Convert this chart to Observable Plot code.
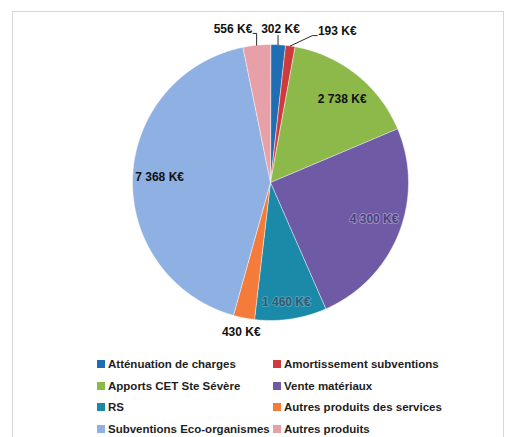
<!DOCTYPE html>
<html><head><meta charset="utf-8">
<script src="https://cdn.jsdelivr.net/npm/d3@7"></script>
<script src="https://cdn.jsdelivr.net/npm/@observablehq/plot@0.6"></script>
<style>
body{margin:0;background:#fff;font-family:"Liberation Sans",Arial,sans-serif;}
#wrap{position:relative;width:526px;height:437px;overflow:hidden;}
#frame{position:absolute;left:12px;top:11px;width:490px;height:440px;border:1px solid #d6d6d6;}
#chart{position:absolute;left:0;top:0;}
.leg{position:absolute;font-weight:bold;font-size:11.5px;color:#1e1e1e;white-space:nowrap;line-height:14px;height:14px}
.leg i{display:inline-block;width:8px;height:8px;margin-right:3px;vertical-align:0px}
</style></head><body>
<div id="wrap"><div id="frame"></div><div id="chart"></div><div id="legend"></div></div>
<script>
const categories = ["Atténuation de charges","Amortissement subventions","Apports CET Ste Sévère","Vente matériaux","RS","Autres produits des services","Subventions Eco-organismes","Autres produits"];
const values = [302, 193, 2738, 4300, 1460, 430, 7368, 556];
const labels = ["302 K€","193 K€","2 738 K€","4 300 K€","1 460 K€","430 K€","7 368 K€","556 K€"];
const colors = ["#1f6db3","#cf3b3d","#8db84a","#6f5aa6","#1a8aa8","#f57b3b","#8fb0e2","#e8a0a8"];

// layout (not data)
const W = 526, H = 345, CX = 270, CY = 182, R = 138;
const labelR = [153.3, 165, 110, 110, 121, 152, 111, 157.6];
const labelShift = [0.6, 15.6, 2, -2, 1, 0, 0.5, -8];
const labelColor = ["#111","#111","#111","#4a4278","#35596e","#111","#111","#111"];
const labelHalo = ["none","none","none","rgba(190,180,225,0.55)","rgba(110,185,205,0.55)","none","none","none"];

const total = d3.sum(values);
const toRad = Math.PI / 180;
let acc = 0;
const slices = values.map((v, i) => {
  const a0 = acc / total * 360; acc += v; const a1 = acc / total * 360;
  return {i, name: categories[i], a0, a1, mid: (a0 + a1) / 2};
});
const pts = [];
for (const s of slices) {
  pts.push({name: s.name, x: 0, y: 0});
  const n = Math.max(2, Math.ceil((s.a1 - s.a0) / 0.5));
  for (let k = 0; k <= n; k++) {
    const a = (s.a0 + (s.a1 - s.a0) * k / n) * toRad;
    pts.push({name: s.name, x: R * Math.sin(a), y: R * Math.cos(a)});
  }
}
const polar = (r, deg) => ({x: r * Math.sin(deg * toRad), y: r * Math.cos(deg * toRad)});
const texts = slices.map(s => {
  const p = polar(labelR[s.i], s.mid + labelShift[s.i]);
  return {...p, text: labels[s.i], color: labelColor[s.i], halo: labelHalo[s.i]};
});
// leaders for top labels
const leaders = [];
{
  const e = polar(R, slices[7].mid), t = texts[7];
  leaders.push({g: 7, x: t.x + 20, y: t.y - 4}, {g: 7, x: e.x, y: t.y - 4}, {g: 7, x: e.x, y: e.y});
  const e0 = polar(R, slices[0].mid), t0 = texts[0];
  leaders.push({g: 0, x: e0.x, y: t0.y - 6}, {g: 0, x: e0.x, y: e0.y});
  const e1 = polar(R, slices[1].mid), t1 = texts[1];
  leaders.push({g: 1, x: t1.x - 20, y: t1.y - 4}, {g: 1, x: t1.x - 25, y: t1.y - 4}, {g: 1, x: e1.x, y: e1.y});
}

const chart = Plot.plot({
  width: W, height: H, margin: 0,
  x: {domain: [-CX, W - CX], axis: null},
  y: {domain: [-(H - CY), CY], axis: null},
  color: {domain: categories, range: colors},
  style: {background: "transparent"},
  marks: [
    Plot.line(pts, {x: "x", y: "y", z: "name", fill: "name", stroke: "white", strokeWidth: 0.5, curve: "linear-closed"}),
    Plot.line(leaders, {x: "x", y: "y", z: "g", stroke: "#111", strokeWidth: 0.9}),
    Plot.text(texts, {x: "x", y: "y", text: "text", fill: d => d.color, stroke: d => d.halo, strokeWidth: 2, fontSize: 12, fontWeight: "bold", fontFamily: "Liberation Sans, Arial, sans-serif"})
  ]
});
document.getElementById("chart").appendChild(chart);

const leg = document.getElementById("legend");
const rowY = [364, 385.7, 407.3, 429];
const colX = [97, 273];
categories.forEach((c, i) => {
  const d = document.createElement("div");
  d.className = "leg";
  d.style.left = colX[i % 2] + "px";
  d.style.top = (rowY[Math.floor(i / 2)] - 7) + "px";
  d.innerHTML = `<i style="background:${colors[i]}"></i>${c}`;
  leg.appendChild(d);
});
</script>
</body></html>
